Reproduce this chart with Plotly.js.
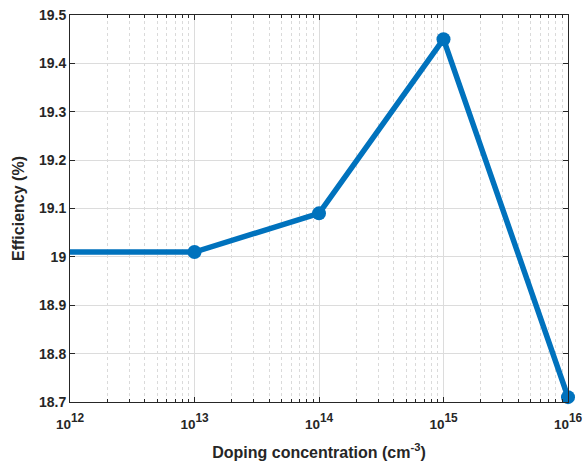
<!DOCTYPE html>
<html>
<head>
<meta charset="utf-8">
<script src="https://cdn.plot.ly/plotly-3.0.1.min.js"></script>
<style>html,body{margin:0;padding:0;background:#fff;}#chart{width:585px;height:463px;}</style>
</head>
<body>
<div id="chart"></div>
<script>
const doping = [1e12, 1e13, 1e14, 1e15, 1e16];
const efficiency = [19.01, 19.01, 19.09, 19.45, 18.71];
const xTickVals = [1e12, 1e13, 1e14, 1e15, 1e16];
const xExponents = ['12', '13', '14', '15', '16'];
const xTickText = xExponents.map(e => '<span style="font-size:13.5px">10</span><sup>' + e + '</sup>');
const yTickVals = [18.7, 18.8, 18.9, 19.0, 19.1, 19.2, 19.3, 19.4, 19.5];
const yTickText = ['18.7', '18.8', '18.9', '19', '19.1', '19.2', '19.3', '19.4', '19.5'];

const axisColor = '#262626';
const fam = 'Liberation Sans, Arial, sans-serif';

const trace = {
  x: doping, y: efficiency, type: 'scatter', mode: 'lines+markers',
  line: {color: '#0072BD', width: 5.5},
  marker: {color: '#0072BD', size: 14, symbol: 'circle'},
  cliponaxis: false
};

const layout = {
  width: 585, height: 463,
  margin: {l: 70, r: 17, t: 15, b: 61},
  paper_bgcolor: '#fff', plot_bgcolor: '#fff',
  showlegend: false,
  font: {family: fam, size: 13, color: axisColor},
  xaxis: {
    type: 'log', range: [12, 16],
    tickvals: xTickVals, ticktext: xTickText,
    ticks: 'inside', ticklen: 5, tickcolor: axisColor,
    showline: true, linecolor: axisColor, linewidth: 1, mirror: 'ticks',
    showgrid: true, gridcolor: '#dcdcdc', gridwidth: 1,
    zeroline: false,
    ticklabelstandoff: 6,
    tickfont: {family: fam, size: 17, color: axisColor, weight: 'bold'},
    minor: {ticks: 'inside', ticklen: 3, tickcolor: axisColor, showgrid: true, gridcolor: '#dadada', griddash: 'dot', gridwidth: 1, dtick: 'D1'},
    title: {text: 'Doping concentration (cm<sup>-3</sup>)', font: {family: fam, size: 16, color: axisColor, weight: 'bold'}, standoff: 15}
  },
  yaxis: {
    range: [18.7, 19.5],
    tickvals: yTickVals, ticktext: yTickText,
    ticks: 'inside', ticklen: 5, tickcolor: axisColor,
    showline: true, linecolor: axisColor, linewidth: 1, mirror: 'ticks',
    showgrid: true, gridcolor: '#dcdcdc', gridwidth: 1,
    zeroline: false,
    tickfont: {family: fam, size: 14, color: axisColor, weight: 'bold'},
    title: {text: 'Efficiency (%)', font: {family: fam, size: 16, color: axisColor, weight: 'bold'}, standoff: 10}
  }
};

Plotly.newPlot('chart', [trace], layout, {displayModeBar: false, staticPlot: true});
</script>
</body>
</html>
